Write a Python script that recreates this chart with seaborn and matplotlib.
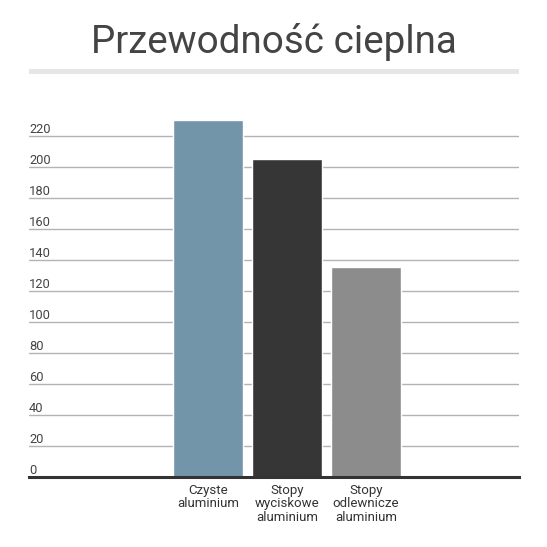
import matplotlib
matplotlib.use("Agg")
import matplotlib.pyplot as plt
from matplotlib.patches import Rectangle
import seaborn as sns
import pandas as pd

# ---- data ----
categories = ["Czyste\naluminium", "Stopy\nwyciskowe\naluminium", "Stopy\nodlewnicze\naluminium"]
values = [230, 205, 135]
bar_colors = ["#7395a9", "#363636", "#8c8c8c"]
yticks = [0, 20, 40, 60, 80, 100, 120, 140, 160, 180, 200, 220]
title = "Przewodność cieplna"

sns.set_theme(style="white")
plt.rcParams["font.family"] = ["Roboto", "DejaVu Sans"]

df = pd.DataFrame({"cat": categories, "val": values})

fig = plt.figure(figsize=(5.47, 5.47), dpi=100)
ax = fig.add_axes([29 / 547, 70.3 / 547, 490 / 547, 372 / 547])

sns.barplot(data=df, x="cat", y="val", hue="cat", palette=bar_colors,
            width=0.886, saturation=1, legend=False, ax=ax, zorder=3)

ax.set_xlim(-2.266, 3.937)
ax.set_ylim(0, 240)
ax.set_xlabel("")
ax.set_ylabel("")

ax.set_yticks(yticks)
ax.set_yticklabels([str(v) for v in yticks])
ax.yaxis.grid(True, color="#b3b3b3", linewidth=1)
ax.set_axisbelow(True)
ax.tick_params(axis="y", length=0, pad=0, labelsize=9.3, labelcolor="#444444")
for lbl in ax.get_yticklabels():
    lbl.set_horizontalalignment("left")
    lbl.set_verticalalignment("bottom")

ax.tick_params(axis="x", length=0, pad=5, labelsize=9.5, labelcolor="#333333")
for lbl in ax.get_xticklabels():
    lbl.set_linespacing(1.05)
    lbl.set_horizontalalignment("center")

for s in ["top", "right", "left"]:
    ax.spines[s].set_visible(False)
ax.spines["bottom"].set_color("#333333")
ax.spines["bottom"].set_linewidth(2.2)
ax.spines["bottom"].set_zorder(4)

# title + rule
fig.text(0.5, 1 - 53.3 / 547, title, ha="center", va="baseline",
         fontsize=27.8, color="#444444", family=["Roboto", "DejaVu Sans"])
fig.add_artist(Rectangle((29.3 / 547, 1 - 73.5 / 547), 489.4 / 547, 4.5 / 547,
                         transform=fig.transFigure, color="#e6e6e6", lw=0))

fig.savefig("out.png", dpi=100)
